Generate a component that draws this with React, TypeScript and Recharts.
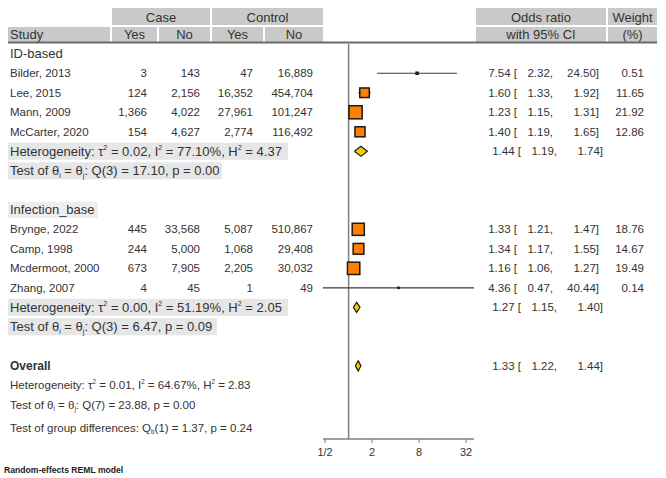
import { ScatterChart, Scatter, XAxis, YAxis, ZAxis, ReferenceLine } from "recharts"

const FONT = "'Liberation Sans', Arial, Helvetica, sans-serif"
const INK = "#333333"

const groupNames = ["ID-based", "Infection_base"]
const studyNames = [
  "Bilder, 2013", "Lee, 2015", "Mann, 2009", "McCarter, 2020",
  "Brynge, 2022", "Camp, 1998", "Mcdermoot, 2000", "Zhang, 2007",
]
const studyGroup = [0, 0, 0, 0, 1, 1, 1, 1]
const caseYes = [3, 124, 1366, 154, 445, 244, 673, 4]
const caseNo = [143, 2156, 4022, 4627, 33568, 5000, 7905, 45]
const controlYes = [47, 16352, 27961, 2774, 5087, 1068, 2205, 1]
const controlNo = [16889, 454704, 101247, 116492, 510867, 29408, 30032, 49]
const oddsRatio = [7.54, 1.6, 1.23, 1.4, 1.33, 1.34, 1.16, 4.36]
const ciLow = [2.32, 1.33, 1.15, 1.19, 1.21, 1.17, 1.06, 0.47]
const ciHigh = [24.5, 1.92, 1.31, 1.65, 1.47, 1.55, 1.27, 40.44]
const weights = [0.51, 11.65, 21.92, 12.86, 18.76, 14.67, 19.49, 0.14]

const groupOR = [1.44, 1.27]
const groupLow = [1.19, 1.15]
const groupHigh = [1.74, 1.4]
const groupTau2 = [0.02, 0.0]
const groupI2 = [77.1, 51.19]
const groupH2 = [4.37, 2.05]
const groupQ = [17.1, 6.47]
const groupDf = [3, 3]
const groupP = [0.0, 0.09]

const overallOR = 1.33
const overallLow = 1.22
const overallHigh = 1.44
const overallTau2 = 0.01
const overallI2 = 64.67
const overallH2 = 2.83
const overallQ = 23.88
const overallDf = 7
const overallP = 0.0
const diffQ = 1.37
const diffDf = 1
const diffP = 0.24

const xTicks = [0.5, 2, 8, 32]
const xTickLabels = ["1/2", "2", "8", "32"]
const headerTop = ["Case", "Control", "Odds ratio", "Weight"]
const headerSub = ["Study", "Yes", "No", "Yes", "No", "with 95% CI", "(%)"]

// row layout: group label, studies, heterogeneity, test, blank
type RowItem = { x: number; row: number; kind: string; idx: number }
const tableRows: RowItem[] = []
const studyRow: number[] = []
const groupRow: number[] = []
let r = 0
groupNames.forEach((_, g) => {
  tableRows.push({ x: 1, row: r++, kind: "group", idx: g })
  studyNames.forEach((_, i) => {
    if (studyGroup[i] === g) {
      studyRow[i] = r
      tableRows.push({ x: 1, row: r++, kind: "study", idx: i })
    }
  })
  groupRow[g] = r
  tableRows.push({ x: 1, row: r++, kind: "het", idx: g })
  tableRows.push({ x: 1, row: r++, kind: "test", idx: g })
  r++
})
const overallRow = r
tableRows.push({ x: 1, row: r++, kind: "overall", idx: 0 })
tableRows.push({ x: 1, row: r++, kind: "ohet", idx: 0 })
tableRows.push({ x: 1, row: r++, kind: "otest", idx: 0 })
tableRows.push({ x: 1, row: r + 0.2, kind: "qb", idx: 0 })

const markers = studyNames.map((_, i) => ({ x: oddsRatio[i], row: studyRow[i], weight: weights[i] }))
const ciSegments = studyNames.map((_, i) => [
  { x: ciLow[i], row: studyRow[i] },
  { x: ciHigh[i], row: studyRow[i] },
])
const summaries = [
  ...groupNames.map((_, g) => ({ or: groupOR[g], lo: groupLow[g], hi: groupHigh[g], row: groupRow[g] })),
  { or: overallOR, lo: overallLow, hi: overallHigh, row: overallRow },
]
const diamonds = summaries.map((s) => [
  { x: s.lo, row: s.row },
  { x: s.or, row: s.row - 0.26 },
  { x: s.hi, row: s.row },
  { x: s.or, row: s.row + 0.26 },
  { x: s.lo, row: s.row },
])

const f2 = (v: number) => v.toFixed(2)
const fInt = (v: number) => v.toLocaleString("en-US")

type Part = [string, number]
function Rich({ parts, x, y, size, bold }: { parts: Part[]; x: number; y: number; size: number; bold?: boolean }) {
  let cur = 0
  return (
    <text x={x} y={y} fontSize={size} fill={INK} fontFamily={FONT} fontWeight={bold ? "bold" : "normal"}>
      {parts.map(([s, k], j) => {
        const target = k === 1 ? -size * 0.45 : k === -1 ? size * 0.18 : 0
        const dy = target - cur
        cur = target
        return (
          <tspan key={j} dy={dy} fontSize={k ? size * 0.55 : size}>
            {s}
          </tspan>
        )
      })}
    </text>
  )
}

const hetParts = (t: number, i2: number, h2: number): Part[] => [
  ["Heterogeneity: τ", 0], ["2", 1], [` = ${f2(t)}, I`, 0], ["2", 1],
  [` = ${f2(i2)}%, H`, 0], ["2", 1], [` = ${f2(h2)}`, 0],
]
const testParts = (df: number, q: number, p: number): Part[] => [
  ["Test of θ", 0], ["i", -1], [" = θ", 0], ["j", -1], [`: Q(${df}) = ${f2(q)}, p = ${f2(p)}`, 0],
]

function ciText(or: number, lo: number, hi: number, shift: number, y: number) {
  const st = { fontSize: 11.5, fill: INK, fontFamily: FONT, textAnchor: "end" as const }
  return (
    <g>
      <text x={517 + shift} y={y} {...st}>{`${f2(or)} [`}</text>
      <text x={553 + shift} y={y} {...st}>{`${f2(lo)},`}</text>
      <text x={599 + shift} y={y} {...st}>{`${f2(hi)}]`}</text>
    </g>
  )
}

function RowText(props: any) {
  const { cy, payload } = props
  if (cy == null || Number.isNaN(cy)) return <g />
  const { kind, idx } = payload as RowItem
  const base = (s: number) => cy + s * 0.35
  const num = { fontSize: 11.5, fill: INK, fontFamily: FONT, textAnchor: "end" as const }
  if (kind === "group") {
    return (
      <g>
        {idx === 1 && <rect x={8} y={cy - 8} width={90} height={16} fill="#eeeeee" />}
        <text x={10} y={base(13)} fontSize={13} fill={INK} fontFamily={FONT}>{groupNames[idx]}</text>
      </g>
    )
  }
  if (kind === "study") {
    const y = base(11.5)
    return (
      <g>
        <text x={10} y={y} fontSize={11.5} fill={INK} fontFamily={FONT}>{studyNames[idx]}</text>
        <text x={147} y={y} {...num}>{fInt(caseYes[idx])}</text>
        <text x={200} y={y} {...num}>{fInt(caseNo[idx])}</text>
        <text x={253} y={y} {...num}>{fInt(controlYes[idx])}</text>
        <text x={313} y={y} {...num}>{fInt(controlNo[idx])}</text>
        {ciText(oddsRatio[idx], ciLow[idx], ciHigh[idx], 0, y)}
        <text x={644} y={y} {...num}>{f2(weights[idx])}</text>
      </g>
    )
  }
  if (kind === "het") {
    return (
      <g>
        <rect x={8} y={cy - 8.5} width={280} height={17} fill="#e6e6e6" />
        <Rich x={10} y={base(13)} size={13} parts={hetParts(groupTau2[idx], groupI2[idx], groupH2[idx])} />
        {ciText(groupOR[idx], groupLow[idx], groupHigh[idx], 4, base(11.5))}
      </g>
    )
  }
  if (kind === "test") {
    return (
      <g>
        <rect x={8} y={cy - 8.5} width={idx === 0 ? 214 : 209} height={17} fill="#e6e6e6" />
        <Rich x={10} y={base(13)} size={13} parts={testParts(groupDf[idx], groupQ[idx], groupP[idx])} />
      </g>
    )
  }
  if (kind === "overall") {
    return (
      <g>
        <text x={10} y={base(12)} fontSize={12} fontWeight="bold" fill={INK} fontFamily={FONT}>Overall</text>
        {ciText(overallOR, overallLow, overallHigh, 4, base(11.5))}
      </g>
    )
  }
  if (kind === "ohet") return <Rich x={10} y={base(11.5)} size={11.5} parts={hetParts(overallTau2, overallI2, overallH2)} />
  if (kind === "otest") return <Rich x={10} y={base(11.5)} size={11.5} parts={testParts(overallDf, overallQ, overallP)} />
  return (
    <Rich
      x={10}
      y={base(11.5)}
      size={11.5}
      parts={[["Test of group differences: Q", 0], ["b", -1], [`(${diffDf}) = ${f2(diffQ)}, p = ${f2(diffP)}`, 0]]}
    />
  )
}

function WeightBox(props: any) {
  const { cx, cy, size } = props
  const s = Math.sqrt(size)
  return <rect x={cx - s / 2} y={cy - s / 2} width={s} height={s} fill="#ff7f00" stroke="#1a1a1a" strokeWidth={1.5} />
}

const Nothing = () => <g />

function Header() {
  const gray = "#c9c9c9"
  const top = [
    { x: 112, w: 98 }, { x: 212, w: 111 }, { x: 476, w: 130 }, { x: 608, w: 49 },
  ]
  const sub = [
    { x: 8, w: 102 }, { x: 112, w: 45 }, { x: 159, w: 51 }, { x: 212, w: 51 },
    { x: 265, w: 58 }, { x: 476, w: 130 }, { x: 608, w: 49 },
  ]
  return (
    <svg width={666} height={478} style={{ position: "absolute", left: 0, top: 0 }}>
      {top.map((b, i) => (
        <g key={"t" + i}>
          <rect x={b.x} y={8} width={b.w} height={17} fill={gray} />
          <text x={b.x + b.w / 2} y={21.5} fontSize={13} textAnchor="middle" fill={INK} fontFamily={FONT}>
            {headerTop[i]}
          </text>
        </g>
      ))}
      {sub.map((b, i) => (
        <g key={"s" + i}>
          <rect x={b.x} y={27} width={b.w} height={15} fill={gray} />
          <text
            x={i === 0 ? 10 : b.x + b.w / 2}
            y={39}
            fontSize={13}
            textAnchor={i === 0 ? "start" : "middle"}
            fill={INK}
            fontFamily={FONT}
          >
            {headerSub[i]}
          </text>
        </g>
      ))}
      <line x1={8} x2={657} y1={42.5} y2={42.5} stroke="#6b6b6b" strokeWidth={2} />
      <text x={4} y={473} fontSize={8.6} fontWeight="bold" fill="#222" fontFamily={FONT}>
        Random-effects REML model
      </text>
    </svg>
  )
}

export default function App() {
  return (
    <div style={{ position: "absolute", left: 0, top: 0, width: 666, height: 478, background: "#fff" }}>
      <Header />
      <div style={{ position: "absolute", left: 0, top: 0 }}>
        <ScatterChart
          width={666}
          height={478}
          margin={{ top: 44, right: 192, bottom: 9, left: 323 }}
          style={{ fontFamily: FONT }}
        >
          <XAxis
            type="number"
            dataKey="x"
            scale="log"
            domain={[0.47, 40.44]}
            ticks={xTicks}
            interval={0}
            tickFormatter={(v: number) => xTickLabels[xTicks.indexOf(v)] ?? String(v)}
            tick={{ fontSize: 11, fill: INK, fontFamily: FONT }}
            tickSize={4}
            tickMargin={5}
            axisLine={{ stroke: "#808080", strokeWidth: 1.5 }}
            tickLine={{ stroke: "#808080" }}
          />
          <YAxis type="number" dataKey="row" domain={[-0.5, 19.75]} reversed hide />
          <ZAxis type="number" dataKey="weight" domain={[0, 25]} range={[0, 196]} />
          <ReferenceLine x={1} stroke="#7f7f7f" strokeWidth={1.5} />
          <Scatter data={tableRows} shape={RowText} isAnimationActive={false} />
          {ciSegments.map((seg, i) => (
            <Scatter
              key={"ci" + i}
              data={seg}
              line={{ stroke: "#3a3a3a", strokeWidth: 1.2 }}
              shape={Nothing}
              isAnimationActive={false}
            />
          ))}
          <Scatter data={markers} shape={WeightBox} isAnimationActive={false} />
          {diamonds.map((d, i) => (
            <Scatter
              key={"dm" + i}
              data={d}
              line={{ stroke: "#1a1a1a", strokeWidth: 1.2, fill: "#f2cd00" }}
              shape={Nothing}
              isAnimationActive={false}
            />
          ))}
        </ScatterChart>
      </div>
    </div>
  )
}
